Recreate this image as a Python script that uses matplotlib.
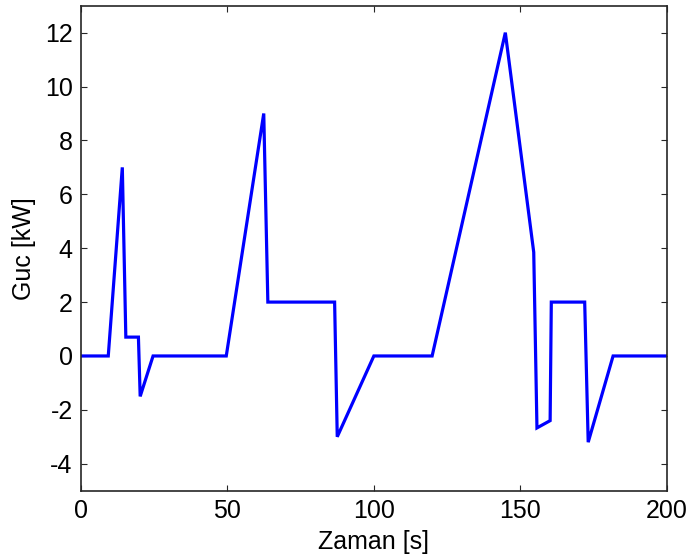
import matplotlib
matplotlib.use("Agg")
import matplotlib.pyplot as plt

# Power profile over the drive cycle
time_s = [0, 9.3, 14.1, 15.3, 19.6, 20.2, 24.6, 49.6,
          62.4, 63.8, 86.6, 87.5, 100.0, 119.9,
          144.9, 154.6, 155.7, 160.2, 160.6, 172.0, 173.2, 181.7, 200]
power_kw = [0, 0, 7.0, 0.7, 0.7, -1.5, 0, 0,
            9.0, 2.0, 2.0, -3.0, 0, 0,
            12.0, 3.85, -2.67, -2.4, 2.0, 2.0, -3.2, 0, 0]

x_ticks = [0, 50, 100, 150, 200]
y_ticks = [-4, -2, 0, 2, 4, 6, 8, 10, 12]

plt.rcParams['font.family'] = ['Liberation Sans', 'DejaVu Sans']
plt.rcParams['axes.unicode_minus'] = False

fig = plt.figure(figsize=(6.89, 5.59), dpi=100)
ax = fig.add_axes([0.1176, 0.1222, 0.85, 0.8676])

ax.plot(time_s, power_kw, color=(0, 0, 1), linewidth=2.3, solid_joinstyle='miter')

ax.set_xlim(0, 200)
ax.set_ylim(-5, 13)
ax.set_xticks(x_ticks)
ax.set_yticks(y_ticks)
ax.tick_params(direction='in', length=4.5, width=0.8, labelsize=18,
               top=True, right=True, colors='#262626', labelcolor='black', pad=6)
for s in ax.spines.values():
    s.set_linewidth(1.2)
    s.set_color('#262626')

ax.set_xlabel('Zaman [s]', fontsize=18, labelpad=5)
ax.set_ylabel('Guc [kW]', fontsize=18, labelpad=6)

fig.savefig('out.png', dpi=100)
